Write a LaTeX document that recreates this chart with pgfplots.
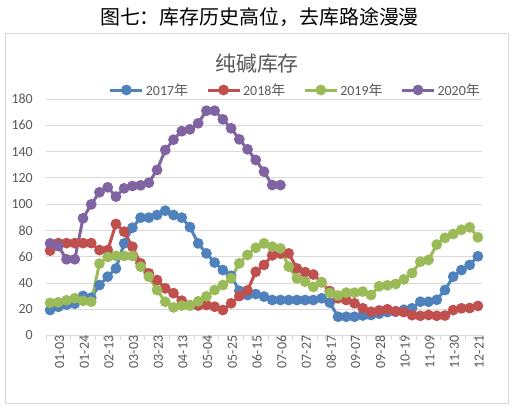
\documentclass[border=0pt]{standalone}
\usepackage{fontspec}
\setmainfont{Carlito}
\newfontfamily\cjk{Noto Sans CJK SC}
\usepackage{pgfplots}
\usepackage{pgfplotstable}
\pgfplotsset{compat=1.18}

\definecolor{c17}{HTML}{4F81BD}
\definecolor{c18}{HTML}{C0504D}
\definecolor{c19}{HTML}{9BBB59}
\definecolor{c20}{HTML}{8064A2}
\definecolor{txt}{HTML}{595959}
\definecolor{gridc}{HTML}{D9D9D9}

% week index, soda ash inventory per year
\pgfplotstableread{
i y17 y18 y19 y20
0 19.4 64.6 24.8 70.1
1 21.8 70.3 25.3 68.0
2 23.5 70.3 26.8 58.0
3 24.2 70.3 28.3 58.0
4 30.1 70.3 26.4 89.2
5 28.8 70.3 25.7 99.8
6 38.4 65.0 54.7 109.0
7 44.8 65.0 59.8 112.8
8 51.0 84.9 60.6 105.7
9 70.1 79.0 60.6 112.0
10 82.0 67.6 60.6 113.8
11 89.7 54.9 52.4 114.3
12 89.7 47.3 44.8 116.3
13 91.7 42.2 34.6 126.0
14 95.0 35.9 25.7 141.2
15 91.7 32.2 21.4 149.0
16 89.7 26.5 22.8 155.5
17 82.5 23.0 22.8 156.9
18 70.1 22.8 26.0 161.5
19 62.5 23.2 29.8 171.1
20 55.5 21.9 34.6 171.1
21 49.8 19.4 38.4 164.5
22 45.5 24.5 43.5 157.7
23 34.0 30.0 54.9 149.3
24 30.8 34.3 61.3 141.7
25 31.5 48.5 66.8 133.6
26 29.6 53.7 70.1 124.7
27 27.0 61.0 67.6 114.5
28 27.0 62.3 66.3 114.5
29 27.0 62.5 52.4 nan
30 27.0 51.0 43.5 nan
31 27.0 48.2 41.0 nan
32 27.0 46.4 37.0 nan
33 28.3 40.5 40.6 nan
34 25.0 33.8 32.4 nan
35 14.3 28.3 30.5 nan
36 14.3 27.0 32.6 nan
37 14.3 24.5 32.6 nan
38 15.2 20.7 33.4 nan
39 15.6 18.1 30.8 nan
40 16.6 19.1 37.5 nan
41 17.8 20.0 38.2 nan
42 18.1 18.5 39.2 nan
43 19.6 17.8 42.7 nan
44 20.7 15.5 47.5 nan
45 25.7 15.0 56.2 nan
46 25.7 15.6 57.5 nan
47 27.2 15.0 69.2 nan
48 34.6 15.2 74.3 nan
49 44.8 19.4 77.2 nan
50 49.8 20.7 80.5 nan
51 53.7 20.9 82.3 nan
52 60.3 22.5 74.7 nan
}\soda

\begin{document}
\begin{tikzpicture}
\path[use as bounding box] (0bp,0bp) rectangle (519bp,410bp);
\draw[gridc, line width=0.8bp] (5bp,7bp) rectangle (508bp,377bp);
\node[font=\cjk\fontsize{20}{24}\selectfont] at (259.5bp,392.5bp) {图七：库存历史高位，去库路途漫漫};
\node[font=\cjk\fontsize{21}{25}\selectfont, text=txt] at (257bp,346bp) {纯碱库存};
\begin{axis}[
  at={(46bp,74.5bp)}, anchor=south west,
  scale only axis, width=436bp, height=236.5bp,
  xmin=-0.5, xmax=52.5, ymin=0, ymax=180,
  ytick={0,20,...,180},
  ymajorgrids, grid style={gridc, line width=0.8bp},
  axis x line*=bottom, axis y line*=left,
  y axis line style={draw=none},
  x axis line style={gridc, line width=0.8bp, -},
  xtick={0,3,...,51},
  xticklabels={01-03,01-24,02-13,03-03,03-23,04-13,05-04,05-25,06-15,07-06,07-27,08-17,09-07,09-28,10-19,11-09,11-30,12-21},
  minor xtick={-0.5,0.5,...,52.5},
  tick align=outside, major tick length=0pt, minor tick length=4bp,
  minor x tick style={gridc, line width=0.8bp},
  ytick style={draw=none},
  tick label style={font=\fontsize{14}{14}\selectfont, text=txt},
  /pgf/number format/assume math mode=true,
  yticklabel style={anchor=east, inner sep=0pt, xshift=-13bp},
  xticklabel style={rotate=90, anchor=east, inner sep=0pt, yshift=-9.5bp},
  clip=false,
  legend columns=4,
  legend style={at={(0.137,1.038)}, anchor=west, draw=none, fill=none,
    font=\fontsize{14}{14}\selectfont, text=txt,
    /tikz/every even column/.append style={column sep=16bp}},
  legend image code/.code={\draw[mark repeat=2,mark phase=2] plot coordinates {(0bp,0bp) (16bp,0bp) (32bp,0bp)};},
  every axis plot/.append style={line width=3bp, mark=*, mark size=3.8bp, mark options={line width=0.5bp}},
]
\addplot[c17, mark options={fill=c17}] table[x=i, y=y17] {\soda};
\addplot[c18, mark options={fill=c18}] table[x=i, y=y18] {\soda};
\addplot[c19, mark options={fill=c19}] table[x=i, y=y19] {\soda};
\addplot[c20, mark options={fill=c20}] table[x=i, y=y20] {\soda};
\legend{2017{\cjk 年}, 2018{\cjk 年}, 2019{\cjk 年}, 2020{\cjk 年}}
\end{axis}
\end{tikzpicture}
\end{document}
